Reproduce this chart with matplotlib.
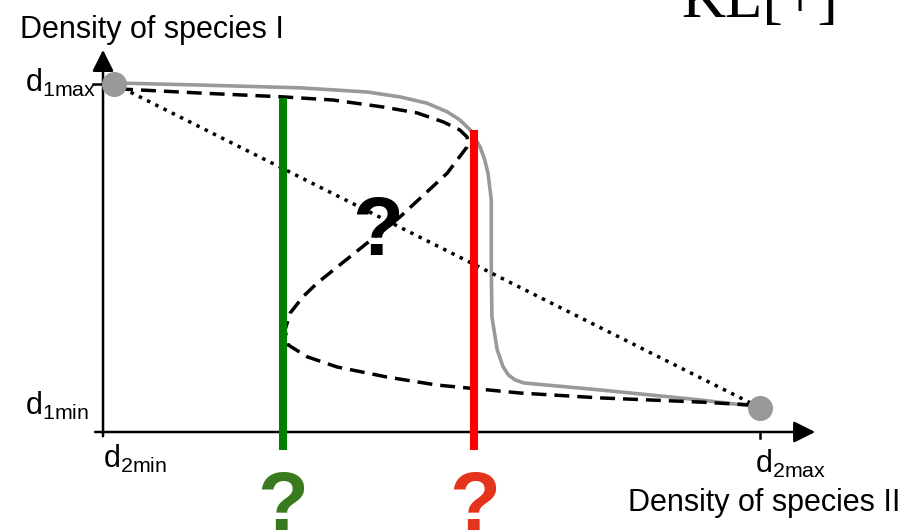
import matplotlib.pyplot as plt

plt.rcParams['font.family'] = ['Liberation Sans', 'DejaVu Sans']
plt.rcParams['mathtext.fontset'] = 'custom'
plt.rcParams['mathtext.rm'] = 'Liberation Sans'
plt.rcParams['mathtext.it'] = 'Liberation Sans:italic'

# x: density of species II (0 = d2min, 1 = d2max)
# y: density of species I (0 = axis, 1 = d1max)
gray_x = [0.017, 0.148, 0.300, 0.402, 0.452, 0.493, 0.524, 0.543, 0.559, 0.574,
          0.581, 0.586, 0.591, 0.591, 0.592, 0.600, 0.609, 0.617, 0.627, 0.640,
          0.756, 0.909, 1.0]
gray_y = [1.003, 0.997, 0.989, 0.977, 0.963, 0.945, 0.920, 0.897, 0.868, 0.819,
          0.782, 0.744, 0.667, 0.474, 0.330, 0.236, 0.187, 0.164, 0.150, 0.141,
          0.121, 0.092, 0.072]

dash_x = [0.023, 0.148, 0.274, 0.350, 0.426, 0.478, 0.518, 0.543, 0.554, 0.556,
          0.554, 0.524, 0.452, 0.402, 0.326, 0.304, 0.285, 0.277, 0.282,
          0.311, 0.356, 0.432, 0.508, 0.569, 0.635, 0.756, 0.909, 0.985]
dash_y = [0.986, 0.974, 0.963, 0.954, 0.934, 0.917, 0.891, 0.868, 0.848, 0.830,
          0.819, 0.744, 0.618, 0.543, 0.428, 0.388, 0.342, 0.293, 0.250,
          0.216, 0.187, 0.158, 0.135, 0.124, 0.112, 0.098, 0.086, 0.078]

end_x = [0.017, 1.0]
end_y = [1.0, 0.07]

green_x, green_top = 0.274, 0.960
red_x, red_top = 0.565, 0.868
bar_bottom = -0.052

fig = plt.figure(figsize=(9.13, 5.31), dpi=100)
ax = fig.add_axes([0, 0, 1, 1])
ax.set_xlim(-0.1568, 1.2329)
ax.set_ylim(-0.2845, 1.2414)
ax.axis('off')

# axes with arrows
arrow = dict(arrowstyle='-|>,head_length=1.3,head_width=0.65', lw=1.8,
             color='black', shrinkA=0, shrinkB=0)
ax.annotate('', xy=(1.084, 0), xytext=(-0.012, 0), arrowprops=arrow)
ax.annotate('', xy=(0, 1.098), xytext=(0, -0.012), arrowprops=arrow)
ax.plot([-0.015, 0], [1.0, 1.0], color='black', lw=1.8)
ax.plot([1.0, 1.0], [0, -0.017], color='black', lw=1.8)

ax.plot(gray_x, gray_y, color='#999999', lw=2.6, zorder=2,
        solid_joinstyle='round')
ax.plot(dash_x, dash_y, color='black', lw=2.5, dashes=(4.3, 2.3), zorder=2)
ax.plot(end_x, end_y, color='black', lw=2.5, linestyle=':', zorder=2)
ax.plot(end_x, end_y, 'o', color='#999999', markersize=17, zorder=4)

ax.plot([green_x, green_x], [bar_bottom, green_top], color='#008000', lw=5.8,
        solid_capstyle='butt', zorder=3)
ax.plot([red_x, red_x], [bar_bottom, red_top], color='#ff0000', lw=5.8,
        solid_capstyle='butt', zorder=3)

# labels
ax.text(-0.126, 1.155, 'Density of species I', fontsize=22, va='center', ha='left')
ax.text(1.213, -0.204, 'Density of species II', fontsize=22, va='center', ha='right')
ax.text(-0.119, 0.977, r'd$_{\mathrm{1max}}$', fontsize=22, va='baseline')
ax.text(-0.119, 0.049, r'd$_{\mathrm{1min}}$', fontsize=22, va='baseline')
ax.text(0.0, -0.103, r'd$_{\mathrm{2min}}$', fontsize=22, va='baseline')
ax.text(0.992, -0.118, r'd$_{\mathrm{2max}}$', fontsize=22, va='baseline')

ax.text(0.418, 0.509, '?', fontsize=60, fontweight='bold', ha='center',
        va='baseline', color='black', zorder=5)
ax.text(green_x, -0.282, '?', fontsize=60, fontweight='bold', ha='center',
        va='baseline', color='#3a7a1e')
ax.text(red_x, -0.282, '?', fontsize=60, fontweight='bold', ha='center',
        va='baseline', color='#e5341c')

ax.text(0.880, 1.192, 'KL[+]', fontsize=44, family='Liberation Serif',
        va='baseline', ha='left')

fig.savefig('out.png', dpi=100)
